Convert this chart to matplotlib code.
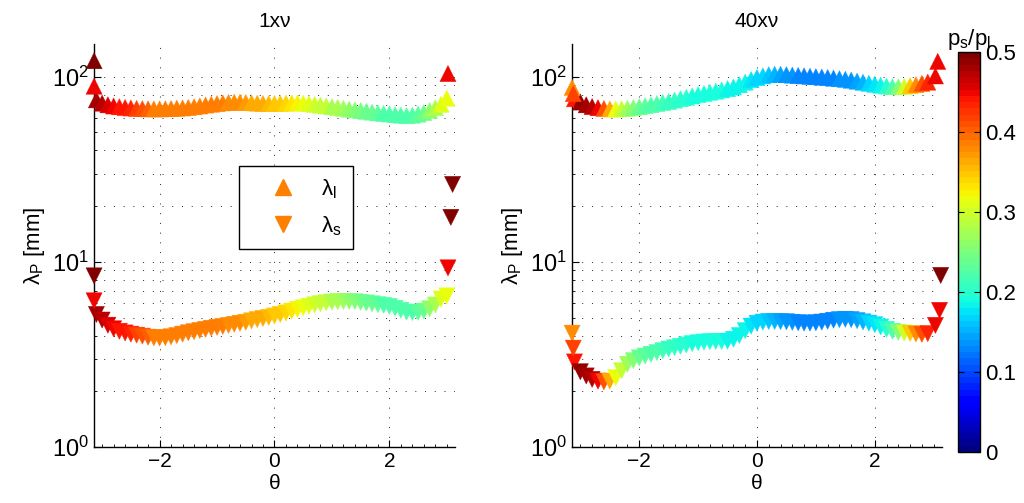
import numpy as np
import matplotlib
matplotlib.use('Agg')
import matplotlib.pyplot as plt
from matplotlib.lines import Line2D
from matplotlib.ticker import LogLocator, MultipleLocator, NullFormatter

plt.rcParams['font.family'] = ['Liberation Sans', 'DejaVu Sans']
plt.rcParams['mathtext.fontset'] = 'custom'
plt.rcParams['mathtext.rm'] = 'Liberation Sans'
plt.rcParams['mathtext.it'] = 'Liberation Sans'
plt.rcParams['mathtext.default'] = 'regular'

# theta sampling of the curves
theta = [-3.1, -3.0, -2.9, -2.8, -2.7, -2.6, -2.5, -2.4, -2.3, -2.2,
         -2.1, -2.0, -1.9, -1.8, -1.7, -1.6, -1.5, -1.4, -1.3, -1.2,
         -1.1, -1.0, -0.9, -0.8, -0.7, -0.6, -0.5, -0.4, -0.3, -0.2,
         -0.1, 0.0, 0.1, 0.2, 0.3, 0.4, 0.5, 0.6, 0.7, 0.8,
         0.9, 1.0, 1.1, 1.2, 1.3, 1.4, 1.5, 1.6, 1.7, 1.8,
         1.9, 2.0, 2.1, 2.2, 2.3, 2.4, 2.5, 2.6, 2.7, 2.8,
         2.9]

# 1xnu
lam_l_1 = [75, 72, 70.5, 69.5, 68.8, 68.2, 67.8, 67.4, 67.2, 67.0,
           67.0, 67.0, 67.1, 67.3, 67.6, 67.8, 68.2, 68.8, 69.5, 70.3,
           71.0, 71.6, 72.2, 72.6, 72.8, 72.8, 72.6, 72.3, 72.0, 71.7,
           71.6, 71.6, 71.8, 72.0, 72.2, 72.2, 72.0, 71.5, 70.8, 70.2,
           69.5, 68.8, 68.2, 67.5, 66.8, 66.2, 65.6, 65.0, 64.4, 63.8,
           63.3, 62.9, 62.4, 62.0, 61.7, 62.0, 62.8, 64.0, 65.8, 68.0,
           71.0]
lam_s_1 = [5.2, 4.85, 4.55, 4.35, 4.22, 4.13, 4.07, 4.02, 3.97, 3.92,
           3.89, 3.88, 3.90, 3.94, 4.00, 4.07, 4.14, 4.20, 4.26, 4.32,
           4.38, 4.43, 4.48, 4.54, 4.60, 4.66, 4.72, 4.80, 4.88, 4.95,
           5.02, 5.10, 5.20, 5.30, 5.42, 5.54, 5.65, 5.76, 5.86, 5.95,
           6.02, 6.07, 6.10, 6.12, 6.12, 6.10, 6.05, 6.00, 5.94, 5.88,
           5.82, 5.75, 5.62, 5.48, 5.36, 5.32, 5.34, 5.42, 5.58, 5.85,
           6.30]
ratio_1 = [.48, .47, .46, .45, .44, .44, .43, .42, .41, .40,
           .39, .39, .39, .39, .39, .39, .39, .39, .39, .39,
           .39, .39, .385, .38, .38, .375, .37, .365, .36, .36,
           .355, .35, .345, .34, .335, .325, .315, .31, .30, .295,
           .29, .28, .275, .27, .26, .25, .245, .24, .235, .23,
           .225, .22, .22, .22, .22, .225, .23, .24, .26, .28,
           .31]
# end points off the curve
th_l_end_1 = [-3.14, -3.14, 3.0, 3.02]
lam_l_end_1 = [122, 88.9, 76.6, 104]
ratio_l_end_1 = [.5, .45, .32, .45]
th_s_end_1 = [-3.14, -3.14, 3.0, 3.02, 3.07, 3.1]
lam_s_end_1 = [8.4, 6.16, 6.55, 9.28, 17.4, 26.2]
ratio_s_end_1 = [.5, .45, .32, .45, .5, .5]

# 40xnu
lam_l_40 = [76, 73, 70.5, 69, 68, 67.4, 67, 66.9, 67.1, 67.5,
            68.1, 68.8, 69.7, 70.6, 71.6, 72.6, 73.5, 74.8, 76.1, 77.4,
            78.7, 80, 81.2, 82.4, 83.6, 84.8, 86.2, 88, 90.5, 93.5,
            96.5, 99, 101, 102.5, 103, 103, 102.5, 102, 101.5, 101,
            100.5, 100, 99.5, 99, 98.2, 97.5, 96.8, 95.8, 94.6, 93.4,
            92.2, 91, 90, 89, 88.3, 88.2, 88.6, 89.4, 90.6, 92,
            93.5]
lam_s_40 = [2.88, 2.55, 2.42, 2.32, 2.27, 2.25, 2.27, 2.37, 2.58, 2.80,
            2.93, 3.03, 3.10, 3.17, 3.24, 3.31, 3.38, 3.44, 3.50, 3.56,
            3.62, 3.66, 3.69, 3.71, 3.72, 3.72, 3.73, 3.82, 4.00, 4.25,
            4.50, 4.66, 4.73, 4.77, 4.77, 4.76, 4.75, 4.72, 4.69, 4.67,
            4.67, 4.69, 4.73, 4.78, 4.84, 4.88, 4.90, 4.88, 4.82, 4.74,
            4.67, 4.58, 4.45, 4.32, 4.22, 4.16, 4.13, 4.11, 4.08, 4.06,
            4.10]
ratio_40 = [.44, .49, .48, .47, .45, .41, .36, .32, .29, .27,
            .25, .24, .23, .225, .22, .215, .21, .205, .20, .20,
            .195, .19, .19, .19, .19, .19, .185, .185, .18, .18,
            .175, .17, .165, .16, .155, .145, .14, .135, .13, .13,
            .13, .13, .13, .13, .13, .135, .135, .14, .145, .155,
            .165, .175, .185, .20, .22, .25, .30, .35, .38, .41,
            .43]
th_l_end_40 = [-3.14, -3.12, 3.03, 3.07]
lam_l_end_40 = [87.5, 81, 101, 121]
ratio_l_end_40 = [.38, .42, .45, .45]
th_s_end_40 = [-3.14, -3.12, 3.03, 3.1, 3.12]
lam_s_end_40 = [4.12, 3.42, 4.54, 5.47, 8.45]
ratio_s_end_40 = [.38, .42, .45, .45, .5]

cmap = plt.get_cmap('jet').resampled(64)
msize = 135
fs = 15

fig = plt.figure(figsize=(10.24, 5.03), dpi=100)
ax1 = fig.add_axes([0.0918, 0.1113, 0.3525, 0.801])
ax2 = fig.add_axes([0.5586, 0.1113, 0.3613, 0.801])
cax = fig.add_axes([0.9355, 0.1014, 0.0215, 0.795])

panels = [
    (ax1, '1xν', lam_l_1, lam_s_1, ratio_1, th_l_end_1, lam_l_end_1, ratio_l_end_1,
     th_s_end_1, lam_s_end_1, ratio_s_end_1),
    (ax2, '40xν', lam_l_40, lam_s_40, ratio_40, th_l_end_40, lam_l_end_40, ratio_l_end_40,
     th_s_end_40, lam_s_end_40, ratio_s_end_40),
]

for ax, title, ll, ls, rr, tle, lle, rle, tse, lse, rse in panels:
    kw = dict(cmap=cmap, vmin=0, vmax=0.5, s=msize, edgecolors='face',
              linewidths=0.3, clip_on=False, zorder=3)
    sc = ax.scatter(theta, ll, c=rr, marker='^', **kw)
    ax.scatter(theta, ls, c=rr, marker='v', **kw)
    ax.scatter(tle, lle, c=rle, marker='^', **kw)
    ax.scatter(tse, lse, c=rse, marker='v', **kw)

    ax.set_yscale('log')
    ax.set_ylim(1, 150)
    ax.set_xlim(-np.pi, np.pi)
    ax.set_xticks([-2, 0, 2])
    ax.xaxis.set_minor_locator(MultipleLocator(0.2))
    ax.yaxis.set_major_locator(LogLocator(base=10, numticks=5))
    ax.yaxis.set_minor_locator(LogLocator(base=10, subs=np.arange(2, 10), numticks=20))
    ax.yaxis.set_minor_formatter(NullFormatter())

    dots = (0, (1, 9))
    ax.grid(True, which='major', axis='both', color='0.15', linestyle=dots, linewidth=0.7)
    ax.grid(True, which='minor', axis='y', color='0.15', linestyle=dots, linewidth=0.7)
    ax.set_axisbelow(True)

    for side in ['top', 'right']:
        ax.spines[side].set_visible(False)
    ax.spines['left'].set_linewidth(1.0)
    ax.spines['bottom'].set_linewidth(1.0)
    ax.tick_params(which='both', direction='in', labelsize=fs, top=False, right=False)
    ax.tick_params(axis='y', labelsize=fs + 2)
    ax.tick_params(which='major', length=5)
    ax.tick_params(which='minor', length=2.5, width=0.6)

    ax.set_title(title, fontsize=fs, pad=12)
    ax.set_xlabel('θ', fontsize=fs, labelpad=2)
    ax.set_ylabel(r'$\lambda_P$ [mm]', fontsize=fs + 1, labelpad=4)

handles = [Line2D([], [], marker='^', ls='none', color='#ff8000', markersize=11),
           Line2D([], [], marker='v', ls='none', color='#ff8000', markersize=11)]
leg = ax1.legend(handles, [r'$\lambda_l$', r'$\lambda_s$'], loc='upper left',
                 bbox_to_anchor=(0.371, 0.725), fontsize=fs + 1, handlelength=3.0,
                 handletextpad=0.2, labelspacing=0.6, borderpad=0.5,
                 fancybox=False, framealpha=1, edgecolor='black')
leg.get_frame().set_linewidth(1.0)

cb = fig.colorbar(sc, cax=cax, ticks=[0, 0.1, 0.2, 0.3, 0.4, 0.5])
cb.ax.tick_params(direction='in', length=4, labelsize=fs + 1, left=True, right=True)
cb.outline.set_linewidth(1.0)
cb.ax.set_yticklabels(['0', '0.1', '0.2', '0.3', '0.4', '0.5'])
cax.set_title(r'$p_s/p_l$', fontsize=fs + 1, pad=4)

fig.savefig('out.png', dpi=100)
